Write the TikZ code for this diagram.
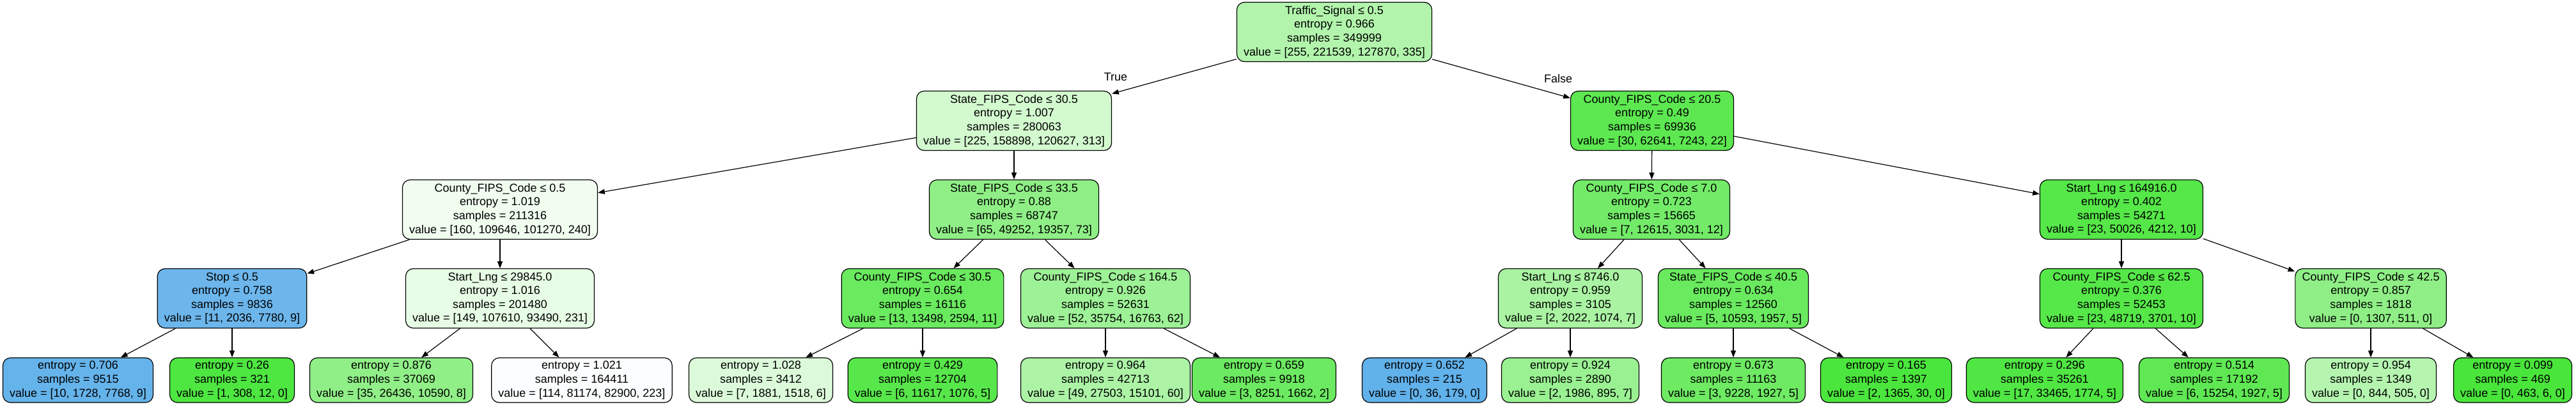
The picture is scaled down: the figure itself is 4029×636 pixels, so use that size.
\documentclass[tikz,border=0pt]{standalone}
\usepackage{fontspec}
\setmainfont{Liberation Sans}
\usetikzlibrary{arrows.meta}

\definecolor{clsgreen}{RGB}{71,229,57}
\definecolor{clsblue}{RGB}{57,157,229}

\tikzset{
  splitbox/.style={draw, line width=0.9pt, rounded corners=9pt, align=center,
    inner xsep=8pt, inner ysep=0pt, minimum height=69.75pt,
    font=\fontsize{13.5}{16.2}\selectfont},
  leafbox/.style={splitbox, minimum height=52.5pt},
  branch/.style={line width=0.9pt, -{Triangle[length=8pt,width=6pt]}},
  sidelabel/.style={font=\fontsize{13.5}{16.2}\selectfont},
}

\begin{document}
\begin{tikzpicture}[x=0.75pt, y=-0.75pt]
\useasboundingbox (0,0) rectangle (4029,636);

% level 0
\node[splitbox, fill=clsgreen!42] (root) at (2087,50)
  {Traffic\_Signal ≤ 0.5\\entropy = 0.966\\samples = 349999\\value = [255, 221539, 127870, 335]};

% level 1
\node[splitbox, fill=clsgreen!24] (L) at (1586,189)
  {State\_FIPS\_Code ≤ 30.5\\entropy = 1.007\\samples = 280063\\value = [225, 158898, 120627, 313]};
\node[splitbox, fill=clsgreen!88] (R) at (2584,189)
  {County\_FIPS\_Code ≤ 20.5\\entropy = 0.49\\samples = 69936\\value = [30, 62641, 7243, 22]};

% level 2
\node[splitbox, fill=clsgreen!8] (LL) at (782,328)
  {County\_FIPS\_Code ≤ 0.5\\entropy = 1.019\\samples = 211316\\value = [160, 109646, 101270, 240]};
\node[splitbox, fill=clsgreen!61] (LR) at (1586,328)
  {State\_FIPS\_Code ≤ 33.5\\entropy = 0.88\\samples = 68747\\value = [65, 49252, 19357, 73]};
\node[splitbox, fill=clsgreen!76] (RL) at (2583,328)
  {County\_FIPS\_Code ≤ 7.0\\entropy = 0.723\\samples = 15665\\value = [7, 12615, 3031, 12]};
\node[splitbox, fill=clsgreen!92] (RR) at (3318,328)
  {Start\_Lng ≤ 164916.0\\entropy = 0.402\\samples = 54271\\value = [23, 50026, 4212, 10]};

% level 3
\node[splitbox, fill=clsblue!74] (LLL) at (363,467)
  {Stop ≤ 0.5\\entropy = 0.758\\samples = 9836\\value = [11, 2036, 7780, 9]};
\node[splitbox, fill=clsgreen!13] (LLR) at (782,467)
  {Start\_Lng ≤ 29845.0\\entropy = 1.016\\samples = 201480\\value = [149, 107610, 93490, 231]};
\node[splitbox, fill=clsgreen!81] (LRL) at (1443,467)
  {County\_FIPS\_Code ≤ 30.5\\entropy = 0.654\\samples = 16116\\value = [13, 13498, 2594, 11]};
\node[splitbox, fill=clsgreen!53] (LRR) at (1729,467)
  {County\_FIPS\_Code ≤ 164.5\\entropy = 0.926\\samples = 52631\\value = [52, 35754, 16763, 62]};
\node[splitbox, fill=clsgreen!47] (RLL) at (2456,467)
  {Start\_Lng ≤ 8746.0\\entropy = 0.959\\samples = 3105\\value = [2, 2022, 1074, 7]};
\node[splitbox, fill=clsgreen!81] (RLR) at (2711,467)
  {State\_FIPS\_Code ≤ 40.5\\entropy = 0.634\\samples = 12560\\value = [5, 10593, 1957, 5]};
\node[splitbox, fill=clsgreen!92] (RRL) at (3318,467)
  {County\_FIPS\_Code ≤ 62.5\\entropy = 0.376\\samples = 52453\\value = [23, 48719, 3701, 10]};
\node[splitbox, fill=clsgreen!61] (RRR) at (3708,467)
  {County\_FIPS\_Code ≤ 42.5\\entropy = 0.857\\samples = 1818\\value = [0, 1307, 511, 0]};

% level 4 (leaves)
\node[leafbox, fill=clsblue!78] (LLLL) at (122,595)
  {entropy = 0.706\\samples = 9515\\value = [10, 1728, 7768, 9]};
\node[leafbox, fill=clsgreen!96] (LLLR) at (363,595)
  {entropy = 0.26\\samples = 321\\value = [1, 308, 12, 0]};
\node[leafbox, fill=clsgreen!60] (LLRL) at (612,595)
  {entropy = 0.876\\samples = 37069\\value = [35, 26436, 10590, 8]};
\node[leafbox, fill=clsblue!2] (LLRR) at (910,595)
  {entropy = 1.021\\samples = 164411\\value = [114, 81174, 82900, 223]};
\node[leafbox, fill=clsgreen!19] (LRLL) at (1190,595)
  {entropy = 1.028\\samples = 3412\\value = [7, 1881, 1518, 6]};
\node[leafbox, fill=clsgreen!91] (LRLR) at (1443,595)
  {entropy = 0.429\\samples = 12704\\value = [6, 11617, 1076, 5]};
\node[leafbox, fill=clsgreen!45] (LRRL) at (1729,595)
  {entropy = 0.964\\samples = 42713\\value = [49, 27503, 15101, 60]};
\node[leafbox, fill=clsgreen!80] (LRRR) at (1977,595)
  {entropy = 0.659\\samples = 9918\\value = [3, 8251, 1662, 2]};
\node[leafbox, fill=clsblue!80] (RLLL) at (2228,595)
  {entropy = 0.652\\samples = 215\\value = [0, 36, 179, 0]};
\node[leafbox, fill=clsgreen!55] (RLLR) at (2456,595)
  {entropy = 0.924\\samples = 2890\\value = [2, 1986, 895, 7]};
\node[leafbox, fill=clsgreen!79] (RLRL) at (2711,595)
  {entropy = 0.673\\samples = 11163\\value = [3, 9228, 1927, 5]};
\node[leafbox, fill=clsgreen!98] (RLRR) at (2950,595)
  {entropy = 0.165\\samples = 1397\\value = [2, 1365, 30, 0]};
\node[leafbox, fill=clsgreen!95] (RRLL) at (3198,595)
  {entropy = 0.296\\samples = 35261\\value = [17, 33465, 1774, 5]};
\node[leafbox, fill=clsgreen!87] (RRLR) at (3463,595)
  {entropy = 0.514\\samples = 17192\\value = [6, 15254, 1927, 5]};
\node[leafbox, fill=clsgreen!40] (RRRL) at (3708,595)
  {entropy = 0.954\\samples = 1349\\value = [0, 844, 505, 0]};
\node[leafbox, fill=clsgreen!99] (RRRR) at (3930,595)
  {entropy = 0.099\\samples = 469\\value = [0, 463, 6, 0]};

% branches
\draw[branch] (root) -- (L);
\draw[branch] (root) -- (R);
\foreach \n in {L,R,LL,LR,RL,RR,LLL,LLR,LRL,LRR,RLL,RLR,RRL,RRR}{
  \draw[branch] (\n) -- (\n L);
  \draw[branch] (\n) -- (\n R);
}

\node[sidelabel] (truelbl) at (1745,120) {True};
\node[sidelabel] (falselbl) at (2437,123) {False};
\end{tikzpicture}
\end{document}
